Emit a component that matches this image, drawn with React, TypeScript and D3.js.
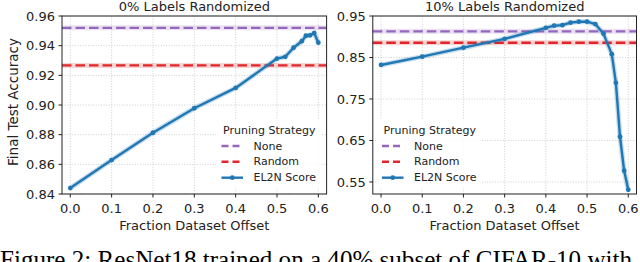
import React from "react";
import * as d3 from "d3";

// ---- data ----
const xTicks = [0, 0.1, 0.2, 0.3, 0.4, 0.5, 0.6];
const leftYTicks = [0.84, 0.86, 0.88, 0.9, 0.92, 0.94, 0.96];
const rightYTicks = [0.55, 0.65, 0.75, 0.85, 0.95];

const leftX = [0, 0.1, 0.2, 0.3, 0.4, 0.5, 0.52, 0.54, 0.56, 0.57, 0.58, 0.59, 0.6];
const leftY = [0.844, 0.8629, 0.8813, 0.8978, 0.9115, 0.9313, 0.9325, 0.9386, 0.943, 0.9467, 0.947, 0.9485, 0.942];
const leftNone = 0.952;
const leftRandom = 0.9267;

const rightX = [0, 0.1, 0.2, 0.3, 0.4, 0.42, 0.44, 0.46, 0.48, 0.5, 0.52, 0.54, 0.56, 0.57, 0.58, 0.59, 0.6];
const rightY = [0.832, 0.852, 0.8736, 0.895, 0.9215, 0.9266, 0.928, 0.934, 0.9363, 0.9363, 0.9305, 0.907, 0.858, 0.789, 0.659, 0.577, 0.531];
const rightNone = 0.913;
const rightRandom = 0.8857;

const titles = ["0% Labels Randomized", "10% Labels Randomized"];
const legendTitle = "Pruning Strategy";
const legendLabels = ["None", "Random", "EL2N Score"];
const xLabel = "Fraction Dataset Offset";
const yLabel = "Final Test Accuracy";
const caption = "Figure 2: ResNet18 trained on a 40% subset of CIFAR-10 with";

const PURPLE = "#9467bd";
const RED = "#e0262a";
const BLUE = "#1f77b4";
const FONT = "DejaVu Sans, sans-serif";

type PanelProps = {
  left: number;
  right: number;
  yDomain: [number, number];
  yTicks: number[];
  fmt: (v: number) => string;
  xs: number[];
  ys: number[];
  none: number;
  random: number;
  title: string;
  legendLeft: number;
  legendRight: number;
};

const TOP = 16;
const BOTTOM = 194;

function Panel(p: PanelProps) {
  const x = d3.scaleLinear().domain([-0.02, 0.62]).range([p.left, p.right]);
  const y = d3.scaleLinear().domain(p.yDomain).range([BOTTOM, TOP]);
  const pts = p.xs.map((v, i) => [v, p.ys[i]] as [number, number]);
  const line = d3
    .line<[number, number]>()
    .x((d) => x(d[0]))
    .y((d) => y(d[1]))
    .curve(d3.curveLinear);
  const path = line(pts) || "";
  const cx = (p.left + p.right) / 2;
  const lgTop = 119;
  const lgBottom = 188.5;
  const hx0 = p.legendLeft + 5.5;
  const hx1 = hx0 + 21.5;
  const tx = hx0 + 32;
  return (
    <g>
      {/* grid */}
      {xTicks.map((t) => (
        <line key={"gx" + t} x1={x(t)} x2={x(t)} y1={TOP} y2={BOTTOM} stroke="#c4c4c4" strokeWidth={0.8} strokeDasharray="1,1.6" />
      ))}
      {p.yTicks.map((t) => (
        <line key={"gy" + t} x1={p.left} x2={p.right} y1={y(t)} y2={y(t)} stroke="#c4c4c4" strokeWidth={0.8} strokeDasharray="1,1.6" />
      ))}
      {/* reference lines */}
      <line x1={p.left} x2={p.right} y1={y(p.none)} y2={y(p.none)} stroke={PURPLE} strokeOpacity={0.2} strokeWidth={5} />
      <line x1={p.left} x2={p.right} y1={y(p.none)} y2={y(p.none)} stroke={PURPLE} strokeWidth={2.4} strokeDasharray="9.5,4" />
      <line x1={p.left} x2={p.right} y1={y(p.random)} y2={y(p.random)} stroke={RED} strokeOpacity={0.2} strokeWidth={5} />
      <line x1={p.left} x2={p.right} y1={y(p.random)} y2={y(p.random)} stroke={RED} strokeWidth={2.4} strokeDasharray="9.5,4" />
      {/* EL2N */}
      <path d={path} fill="none" stroke={BLUE} strokeOpacity={0.25} strokeWidth={5} />
      <path d={path} fill="none" stroke={BLUE} strokeWidth={2.4} strokeLinejoin="round" />
      {pts.map((d, i) => (
        <circle key={"pt" + i} cx={x(d[0])} cy={y(d[1])} r={2.4} fill={BLUE} />
      ))}
      {/* legend */}
      <rect x={p.legendLeft} y={lgTop} width={p.legendRight - p.legendLeft} height={lgBottom - lgTop} rx={2.5} fill="#ffffff" fillOpacity={0.85} />
      <text x={p.legendLeft + 7} y={133.5} fontFamily={FONT} fontSize={11} fill="#222">{legendTitle}</text>
      <line x1={hx0} x2={hx1} y1={146} y2={146} stroke={PURPLE} strokeWidth={2.4} strokeDasharray="7,4" />
      <text x={tx} y={149.5} fontFamily={FONT} fontSize={11} fill="#222">{legendLabels[0]}</text>
      <line x1={hx0} x2={hx1} y1={161.8} y2={161.8} stroke={RED} strokeWidth={2.4} strokeDasharray="7,4" />
      <text x={tx} y={165.3} fontFamily={FONT} fontSize={11} fill="#222">{legendLabels[1]}</text>
      <line x1={hx0} x2={hx1} y1={177.7} y2={177.7} stroke={BLUE} strokeWidth={2.4} />
      <circle cx={(hx0 + hx1) / 2} cy={177.7} r={2.4} fill={BLUE} />
      <text x={tx} y={181.2} fontFamily={FONT} fontSize={11} fill="#222">{legendLabels[2]}</text>
      {/* spines */}
      <rect x={p.left} y={TOP} width={p.right - p.left} height={BOTTOM - TOP} fill="none" stroke="#222" strokeWidth={1} />
      {/* x ticks */}
      {xTicks.map((t) => (
        <g key={"xt" + t}>
          <line x1={x(t)} x2={x(t)} y1={BOTTOM} y2={BOTTOM + 3.5} stroke="#222" strokeWidth={1} />
          <text x={x(t)} y={213} textAnchor="middle" fontFamily={FONT} fontSize={13} fill="#222">{t.toFixed(1)}</text>
        </g>
      ))}
      {/* y ticks */}
      {p.yTicks.map((t) => (
        <g key={"yt" + t}>
          <line x1={p.left - 3.5} x2={p.left} y1={y(t)} y2={y(t)} stroke="#222" strokeWidth={1} />
          <text x={p.left - 7} y={y(t) + 4.7} textAnchor="end" fontFamily={FONT} fontSize={13} fill="#222">{p.fmt(t)}</text>
        </g>
      ))}
      <text x={cx} y={229.5} textAnchor="middle" fontFamily={FONT} fontSize={13} fill="#222">{xLabel}</text>
      <text x={cx} y={10.5} textAnchor="middle" fontFamily={FONT} fontSize={13} fill="#222">{p.title}</text>
    </g>
  );
}

export default function App() {
  return (
    <svg width={640} height={262} style={{ position: "absolute", left: 0, top: 0, background: "#fff" }}>
      <rect x={0} y={0} width={640} height={262} fill="#fff" />
      <Panel
        left={62}
        right={326.6}
        yDomain={[0.84, 0.96]}
        yTicks={leftYTicks}
        fmt={(v) => v.toFixed(2)}
        xs={leftX}
        ys={leftY}
        none={leftNone}
        random={leftRandom}
        title={titles[0]}
        legendLeft={216}
        legendRight={321}
      />
      <Panel
        left={372.8}
        right={636.5}
        yDomain={[0.521, 0.95]}
        yTicks={rightYTicks}
        fmt={(v) => v.toFixed(2)}
        xs={rightX}
        ys={rightY}
        none={rightNone}
        random={rightRandom}
        title={titles[1]}
        legendLeft={376.5}
        legendRight={481}
      />
      <text transform="translate(17.5,102) rotate(-90)" textAnchor="middle" fontFamily={FONT} fontSize={13.5} fill="#222">{yLabel}</text>
      <text x={0} y={268} fontFamily="Liberation Serif, serif" fontSize={25} textLength={632} lengthAdjust="spacingAndGlyphs" fill="#000">{caption}</text>
    </svg>
  );
}
